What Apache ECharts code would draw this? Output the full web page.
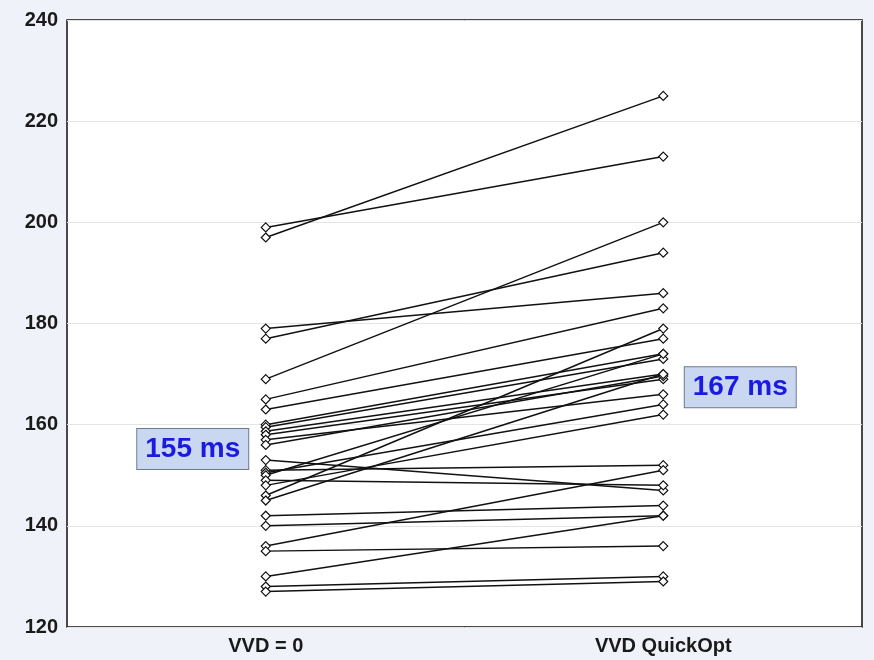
<!DOCTYPE html>
<html>
<head>
<meta charset="utf-8">
<script src="https://cdn.jsdelivr.net/npm/echarts@6/dist/echarts.min.js"></script>
<style>
html,body{margin:0;padding:0;background:#eff2f9;}
#c{width:874px;height:660px;}
</style>
</head>
<body>
<div id="c"></div>
<script>
var categories = ['VVD = 0', 'VVD QuickOpt'];
var yTicks = [120, 140, 160, 180, 200, 220, 240];
// paired values: before (VVD = 0) and after (VVD QuickOpt)
var beforeValues = [199, 197, 179, 177, 169, 165, 163, 160, 159.5, 158.7, 158, 157, 156, 153, 151, 150.5, 150, 149, 148, 146, 145, 142, 140, 136, 135, 130, 128, 127];
var afterValues  = [213, 225, 186, 194, 200, 183, 177, 174, 173, 170, 169, 166, 169.6, 147, 152, 164, 174, 148, 162, 179, 170, 144, 142, 151, 136, 142, 130, 129];
var meanLabels = [{cat: 'VVD = 0', value: 155, text: '155 ms'}, {cat: 'VVD QuickOpt', value: 167, text: '167 ms'}];

var chart = echarts.init(document.getElementById('c'));
var series = [];
for (var i = 0; i < beforeValues.length; i++) {
  series.push({
    type: 'line',
    data: [beforeValues[i], afterValues[i]],
    symbol: 'diamond',
    symbolSize: 9,
    showAllSymbol: true,
    lineStyle: {color: '#111', width: 1.5},
    itemStyle: {color: '#fff', borderColor: '#111', borderWidth: 1.2},
    emphasis: {disabled: true},
    z: 3,
    animation: false
  });
}
var boxLabel = {
  show: true,
  fontFamily: 'Liberation Sans, Arial, sans-serif',
  fontWeight: 'bold',
  fontSize: 28,
  color: '#1a1ae0',
  backgroundColor: '#c9d7f0',
  borderColor: '#6c7a90',
  borderWidth: 1,
  padding: [7, 8, 5, 8],
  position: 'inside'
};
series.push({
  type: 'scatter',
  data: [],
  silent: true,
  animation: false,
  markPoint: {
    symbol: 'circle',
    symbolSize: 0,
    silent: true,
    animation: false,
    data: [
      {coord: [meanLabels[0].cat, meanLabels[0].value], value: meanLabels[0].text,
       label: Object.assign({}, boxLabel, {formatter: meanLabels[0].text, offset: [-73, -1]})},
      {coord: [meanLabels[1].cat, meanLabels[1].value], value: meanLabels[1].text,
       label: Object.assign({}, boxLabel, {formatter: meanLabels[1].text, offset: [77, -2]})}
    ]
  },
  z: 10
});

chart.setOption({
  backgroundColor: '#eff2f9',
  animation: false,
  grid: {left: 67, right: 12, top: 20, bottom: 33, show: true, backgroundColor: '#fff', borderColor: '#111', borderWidth: 1.5},
  xAxis: {
    type: 'category',
    data: categories,
    boundaryGap: true,
    axisLine: {show: false},
    axisTick: {show: false},
    axisLabel: {fontFamily: 'Liberation Sans, Arial, sans-serif', fontWeight: 'bold', fontSize: 20, color: '#1a1a1a', margin: 9},
    splitLine: {show: false}
  },
  yAxis: {
    type: 'value',
    min: yTicks[0],
    max: yTicks[yTicks.length - 1],
    interval: 20,
    axisLine: {show: false},
    axisTick: {show: false},
    axisLabel: {fontFamily: 'Liberation Sans, Arial, sans-serif', fontWeight: 'bold', fontSize: 20, color: '#1a1a1a', margin: 9},
    splitLine: {show: true, lineStyle: {color: '#e4e4e4', width: 1}}
  },
  series: series
});
</script>
</body>
</html>
